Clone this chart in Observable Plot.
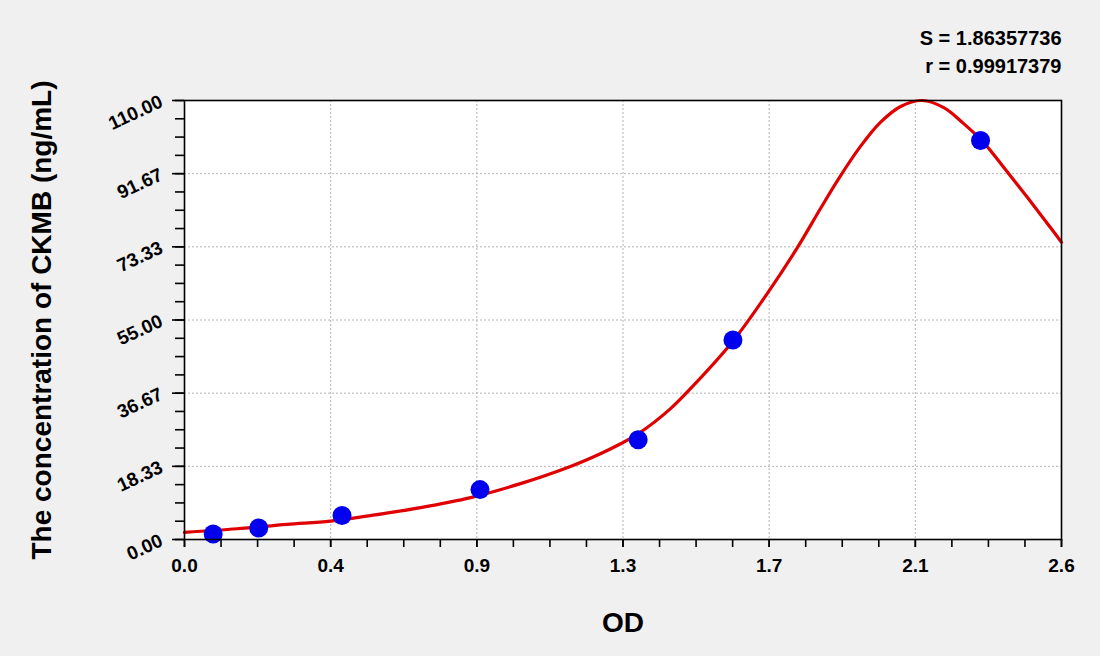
<!DOCTYPE html>
<html>
<head>
<meta charset="utf-8">
<script src="https://cdn.jsdelivr.net/npm/d3@7"></script>
<script src="https://cdn.jsdelivr.net/npm/@observablehq/plot@0.6"></script>
<style>
  html, body { margin: 0; padding: 0; background: #f0f0f0; }
</style>
</head>
<body>
<div id="chart"></div>
<script>
// Standard points (OD, concentration)
const pointOD   = [0.085, 0.220, 0.467, 0.876, 1.345, 1.626, 2.360];
const pointConc = [1.4, 2.9, 6.0, 12.5, 25.0, 50.0, 100.0];

// Fitted curve
const curveOD   = [0, 0.156, 0.304, 0.433, 0.551, 0.700, 0.848, 0.996, 1.144, 1.233, 1.293, 1.347, 1.441, 1.500, 1.624, 1.729, 1.816, 1.886, 1.940, 2.004, 2.063, 2.123, 2.187, 2.251, 2.310, 2.370, 2.429, 2.498, 2.558, 2.600];
const curveConc = [1.8, 2.7, 3.8, 4.6, 6.0, 8.0, 10.5, 14.0, 18.3, 21.5, 24.0, 26.6, 32.8, 37.8, 49.5, 61.8, 73.0, 83.0, 90.5, 98.5, 104.5, 108.5, 110.0, 108.2, 104.2, 99.4, 93.2, 85.8, 79.2, 74.5];

// Axes
const xTicks = [0, 0.43333, 0.86667, 1.3, 1.73333, 2.16667, 2.6];
const xTickLabels = ["0.0", "0.4", "0.9", "1.3", "1.7", "2.1", "2.6"];
const yTicks = [0, 18.3333, 36.6667, 55, 73.3333, 91.6667, 110];
const yTickLabels = ["0.00", "18.33", "36.67", "55.00", "73.33", "91.67", "110.00"];
const xMinor = d3.range(0, 25).map(i => i * 2.6 / 24);
const yMinor = d3.range(0, 25).map(i => i * 110 / 24);

const xTitle = "OD";
const yTitle = "The concentration of CKMB (ng/mL)";
const statLines = ["S = 1.86357736", "r = 0.99917379"];

const points = pointOD.map((x, i) => ({x, y: pointConc[i]}));
const curve = curveOD.map((x, i) => ({x, y: curveConc[i]}));

const chart = Plot.plot({
  width: 1100,
  height: 656,
  marginLeft: 184,
  marginRight: 39,
  marginTop: 100,
  marginBottom: 117,
  style: {background: "#f0f0f0", color: "black", fontFamily: "'Liberation Sans', Arial, sans-serif", fontWeight: "bold"},
  x: {domain: [0, 2.6]},
  y: {domain: [0, 110]},
  marks: [
    Plot.frame({fill: "white", stroke: null}),
    Plot.gridX(xTicks, {stroke: "#b4b4b4", strokeOpacity: 1, strokeWidth: 1, strokeDasharray: "2,2"}),
    Plot.gridY(yTicks, {stroke: "#b4b4b4", strokeOpacity: 1, strokeWidth: 1, strokeDasharray: "2,2"}),
    Plot.line(curve, {x: "x", y: "y", stroke: "#e00000", strokeWidth: 3.2, curve: "catmull-rom"}),
    Plot.dot(points, {x: "x", y: "y", r: 9.5, fill: "#0000ee", stroke: null}),
    Plot.frame({stroke: "black", strokeWidth: 1.6}),
    Plot.axisX(xMinor, {tickSize: 8, tickFormat: () => "", strokeWidth: 1.6, label: null}),
    Plot.axisX(xTicks, {tickSize: 8, tickPadding: 11, strokeWidth: 1.6, fontSize: 19, fontWeight: "bold", tickFormat: (d, i) => xTickLabels[i], label: null}),
    Plot.axisY(yMinor, {tickSize: 9, tickFormat: () => "", strokeWidth: 1.6, label: null}),
    Plot.axisY(yTicks, {tickSize: 12, tickPadding: 11, tickRotate: -25, strokeWidth: 1.6, fontSize: 19, fontWeight: "bold", tickFormat: (d, i) => yTickLabels[i], label: null}),
    Plot.text([xTitle], {frameAnchor: "bottom", dy: 84, fontSize: 28, fontWeight: "bold", lineAnchor: "middle"}),
    Plot.text([yTitle], {frameAnchor: "left", dx: -142, rotate: -90, fontSize: 28, fontWeight: "bold", textAnchor: "middle", lineAnchor: "middle"}),
    Plot.text([statLines[0]], {frameAnchor: "top-right", dy: -56, fontSize: 20, fontWeight: "bold", textAnchor: "end", lineAnchor: "bottom"}),
    Plot.text([statLines[1]], {frameAnchor: "top-right", dy: -28, fontSize: 20, fontWeight: "bold", textAnchor: "end", lineAnchor: "bottom"})
  ]
});
document.getElementById("chart").appendChild(chart);
</script>
</body>
</html>
